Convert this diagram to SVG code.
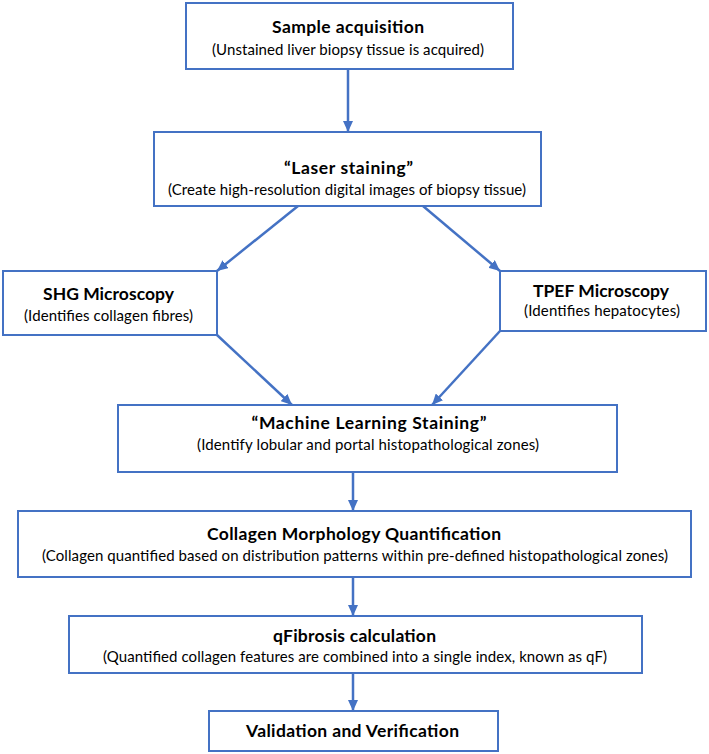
<svg xmlns="http://www.w3.org/2000/svg" width="709" height="754" viewBox="0 0 709 754">
<style>
.box{fill:#ffffff;stroke:#4472C4;stroke-width:2}
.t{font-family:Lato,"Open Sans","Liberation Sans",sans-serif;font-weight:bold;font-size:17.5px;fill:#000;text-anchor:middle}
.s{font-family:Lato,"Open Sans","Liberation Sans",sans-serif;font-size:15px;fill:#000;text-anchor:middle}
.c{stroke:#4472C4;stroke-width:2.5;fill:none}
</style>
<defs>
<marker id="ah" markerUnits="userSpaceOnUse" markerWidth="12" markerHeight="10" refX="11" refY="5" orient="auto">
<path d="M0,0 L11,5 L0,10 z" fill="#4472C4"/>
</marker>
</defs>
<rect width="709" height="754" fill="#ffffff"/>
<g id="connectors">
<line class="c" x1="348" y1="69" x2="348" y2="132" marker-end="url(#ah)"/>
<line class="c" x1="298" y1="206" x2="217" y2="271" marker-end="url(#ah)"/>
<line class="c" x1="423" y1="206" x2="500" y2="271" marker-end="url(#ah)"/>
<line class="c" x1="217" y1="335" x2="292" y2="405" marker-end="url(#ah)"/>
<line class="c" x1="500" y1="331" x2="432" y2="405" marker-end="url(#ah)"/>
<line class="c" x1="353" y1="472" x2="353" y2="511" marker-end="url(#ah)"/>
<line class="c" x1="353" y1="577" x2="353" y2="616" marker-end="url(#ah)"/>
<line class="c" x1="353" y1="673" x2="353" y2="711" marker-end="url(#ah)"/>
</g>
<g id="sample">
<rect class="box" x="186" y="3" width="327" height="66"/>
<text class="t" x="348" y="33" textLength="152">Sample acquisition</text>
<text class="s" x="348" y="55" textLength="272">(Unstained liver biopsy tissue is acquired)</text>
</g>
<g id="laser">
<rect class="box" x="154" y="132" width="387" height="74"/>
<text class="t" x="348.5" y="174" textLength="129">“Laser staining”</text>
<text class="s" x="347" y="195" textLength="358">(Create high-resolution digital images of biopsy tissue)</text>
</g>
<g id="shg">
<rect class="box" x="3" y="271" width="214" height="64"/>
<text class="t" x="108.5" y="300" textLength="131">SHG Microscopy</text>
<text class="s" x="108.5" y="321" textLength="169">(Identifies collagen fibres)</text>
</g>
<g id="tpef">
<rect class="box" x="500" y="271" width="206" height="60"/>
<text class="t" x="601" y="297" textLength="136">TPEF Microscopy</text>
<text class="s" x="602" y="316" textLength="156">(Identifies hepatocytes)</text>
</g>
<g id="ml">
<rect class="box" x="118" y="405" width="499" height="67"/>
<text class="t" x="369" y="429" textLength="235">“Machine Learning Staining”</text>
<text class="s" x="368" y="450" textLength="342">(Identify lobular and portal histopathological zones)</text>
</g>
<g id="collagen">
<rect class="box" x="18" y="511" width="673" height="66"/>
<text class="t" x="354" y="540" textLength="294">Collagen Morphology Quantification</text>
<text class="s" x="355" y="561" textLength="626">(Collagen quantified based on distribution patterns within pre-defined histopathological zones)</text>
</g>
<g id="qfibrosis">
<rect class="box" x="69" y="616" width="573" height="57"/>
<text class="t" x="354.5" y="642" textLength="163">qFibrosis calculation</text>
<text class="s" x="355" y="662" textLength="504">(Quantified collagen features are combined into a single index, known as qF)</text>
</g>
<g id="validation">
<rect class="box" x="209" y="711" width="289" height="40"/>
<text class="t" x="352.5" y="737" textLength="213">Validation and Verification</text>
</g>
</svg>
